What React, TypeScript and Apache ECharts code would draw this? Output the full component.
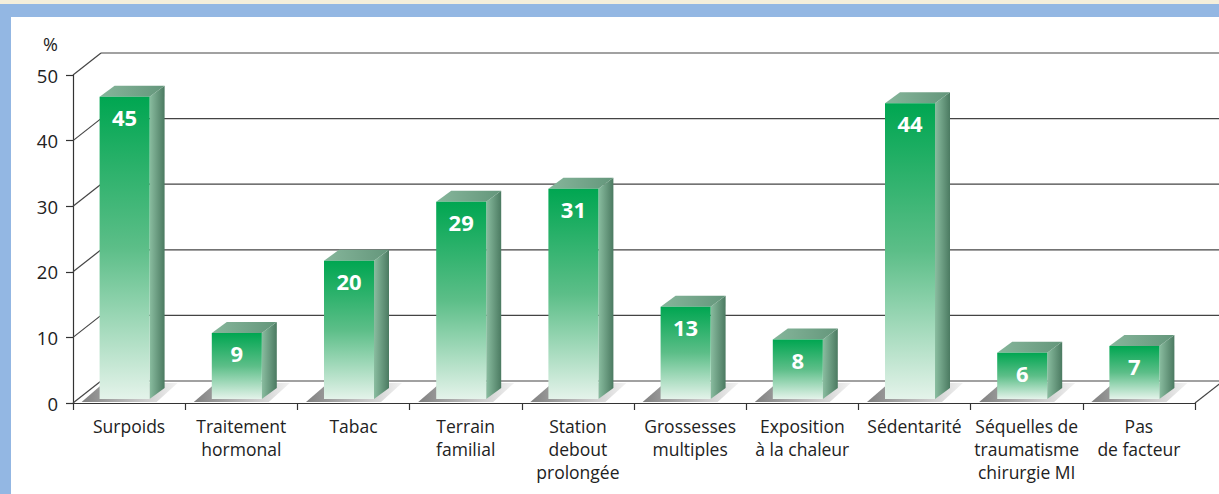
import React, { useEffect, useRef } from "react";
import * as echarts from "echarts";

const categories = [
  "Surpoids",
  "Traitement\nhormonal",
  "Tabac",
  "Terrain\nfamilial",
  "Station\ndebout\nprolongée",
  "Grossesses\nmultiples",
  "Exposition\nà la chaleur",
  "Sédentarité",
  "Séquelles de\ntraumatisme\nchirurgie MI",
  "Pas\nde facteur",
];
const values = [45, 9, 20, 29, 31, 13, 8, 44, 6, 7];
const yTicks = [0, 10, 20, 30, 40, 50];
const unitLabel = "%";

const FONT = "'Open Sans', 'Noto Sans', sans-serif";
const WALL_DX = 28;
const WALL_DY = 22;
const BAR_W = 50;
const SIDE_DX = 15;
const SIDE_DY = 11;

export default function App() {
  const ref = useRef<HTMLDivElement>(null);
  useEffect(() => {
    if (!ref.current) return;
    const chart = echarts.init(ref.current, null, { renderer: "svg" });
    const lineStyle = { stroke: "#444444", lineWidth: 1.2 };
    chart.setOption({
      animation: false,
      backgroundColor: "#ffffff",
      graphic: [
        { type: "rect", z: -10, shape: { x: 0, y: 0, width: 1219, height: 4 }, style: { fill: "#f4eedb" } },
        { type: "rect", z: -10, shape: { x: 0, y: 4, width: 1219, height: 13 }, style: { fill: "#93b7e3" } },
        { type: "rect", z: -10, shape: { x: 0, y: 4, width: 11, height: 490 }, style: { fill: "#93b7e3" } },
        {
          type: "text",
          x: 58,
          y: 44,
          style: { text: unitLabel, fontFamily: FONT, fontSize: 18, fill: "#222", align: "right", verticalAlign: "middle" },
        },
      ],
      grid: { left: 73, right: 24, top: 75, bottom: 91 },
      xAxis: {
        type: "category",
        data: categories,
        boundaryGap: true,
        axisLine: { show: true, lineStyle: { color: "#333", width: 1.2 } },
        axisTick: { show: true, length: 7, inside: false, lineStyle: { color: "#333", width: 1.2 } },
        axisLabel: {
          interval: 0,
          margin: 11,
          color: "#222",
          fontFamily: FONT,
          fontSize: 17.5,
          lineHeight: 23,
        },
        splitLine: { show: false },
      },
      yAxis: {
        type: "value",
        min: 0,
        max: 50,
        interval: 10,
        axisLine: { show: true, lineStyle: { color: "#333", width: 1.2 } },
        axisTick: { show: true, length: 7, inside: false, lineStyle: { color: "#333", width: 1.2 } },
        axisLabel: { margin: 15, color: "#222", fontFamily: FONT, fontSize: 18.5 },
        splitLine: { show: false },
      },
      series: [
        {
          type: "custom",
          z: 1,
          silent: true,
          data: yTicks.map((v) => [0, v]),
          encode: { x: 0, y: 1 },
          renderItem: (params: any, api: any) => {
            const v = api.value(1);
            const p = api.coord([0, v]);
            const cs = params.coordSys;
            const gx = cs.x;
            const gr = cs.x + cs.width;
            const y = p[1];
            const children: any[] = [
              { type: "line", shape: { x1: gx, y1: y, x2: gx + WALL_DX, y2: y - WALL_DY }, style: lineStyle },
              { type: "line", shape: { x1: gx + WALL_DX, y1: y - WALL_DY, x2: gr + WALL_DX + 20, y2: y - WALL_DY }, style: lineStyle },
            ];
            if (v === 0) {
              children.push({ type: "line", shape: { x1: gr, y1: y, x2: gr + WALL_DX, y2: y - WALL_DY }, style: lineStyle });
            }
            return { type: "group", children };
          },
        },
        {
          type: "custom",
          z: 3,
          data: values.map((v, i) => [i, v]),
          encode: { x: 0, y: 1 },
          renderItem: (params: any, api: any) => {
            const i = api.value(0);
            const v = api.value(1);
            const c = api.coord([i, v]);
            const b = api.coord([i, 0]);
            const cx = c[0] - 4.5;
            const x0 = cx - BAR_W / 2;
            const x1 = cx + BAR_W / 2;
            const topY = c[1] - SIDE_DY;
            const botY = b[1] - 4;
            const fy = b[1] - 1;
            return {
              type: "group",
              children: [
                {
                  type: "polygon",
                  shape: {
                    points: [
                      [x0 - 18, fy],
                      [x0 + 4, fy - 19],
                      [x1 + SIDE_DX + 13, fy - 19],
                      [x1 + SIDE_DX - 8, fy],
                    ],
                  },
                  style: {
                    fill: new echarts.graphic.LinearGradient(0, 0, 1, 0, [
                      { offset: 0, color: "#808080" },
                      { offset: 0.5, color: "#bbbbbb" },
                      { offset: 1, color: "#f2f2f2" },
                    ]),
                  },
                },
                {
                  type: "polygon",
                  shape: {
                    points: [
                      [x1, topY],
                      [x1 + SIDE_DX, topY - SIDE_DY],
                      [x1 + SIDE_DX, botY - SIDE_DY],
                      [x1, botY],
                    ],
                  },
                  style: {
                    fill: new echarts.graphic.LinearGradient(0, 0, 1, 0, [
                      { offset: 0, color: "#8abda0" },
                      { offset: 1, color: "#4b7a61" },
                    ]),
                  },
                },
                {
                  type: "polygon",
                  shape: {
                    points: [
                      [x0, topY],
                      [x0 + SIDE_DX, topY - SIDE_DY],
                      [x1 + SIDE_DX, topY - SIDE_DY],
                      [x1, topY],
                    ],
                  },
                  style: {
                    fill: new echarts.graphic.LinearGradient(0, 0, 1, 0, [
                      { offset: 0, color: "#86b69b" },
                      { offset: 1, color: "#64967b" },
                    ]),
                  },
                },
                {
                  type: "rect",
                  shape: { x: x0, y: topY, width: BAR_W, height: botY - topY },
                  style: {
                    fill: new echarts.graphic.LinearGradient(0, 0, 0, 1, [
                      { offset: 0, color: "#00a651" },
                      { offset: 0.5, color: "#5cbe88" },
                      { offset: 1, color: "#e4f3ea" },
                    ]),
                  },
                },
                {
                  type: "text",
                  x: cx,
                  y: topY + 20,
                  style: {
                    text: String(v),
                    fill: "#ffffff",
                    fontFamily: FONT,
                    fontWeight: "bold",
                    fontSize: 22,
                    align: "center",
                    verticalAlign: "middle",
                  },
                },
              ],
            };
          },
        },
      ],
    });
    return () => chart.dispose();
  }, []);
  return (
    <div
      ref={ref}
      style={{ position: "absolute", left: 0, top: 0, width: 1219, height: 494 }}
    />
  );
}
